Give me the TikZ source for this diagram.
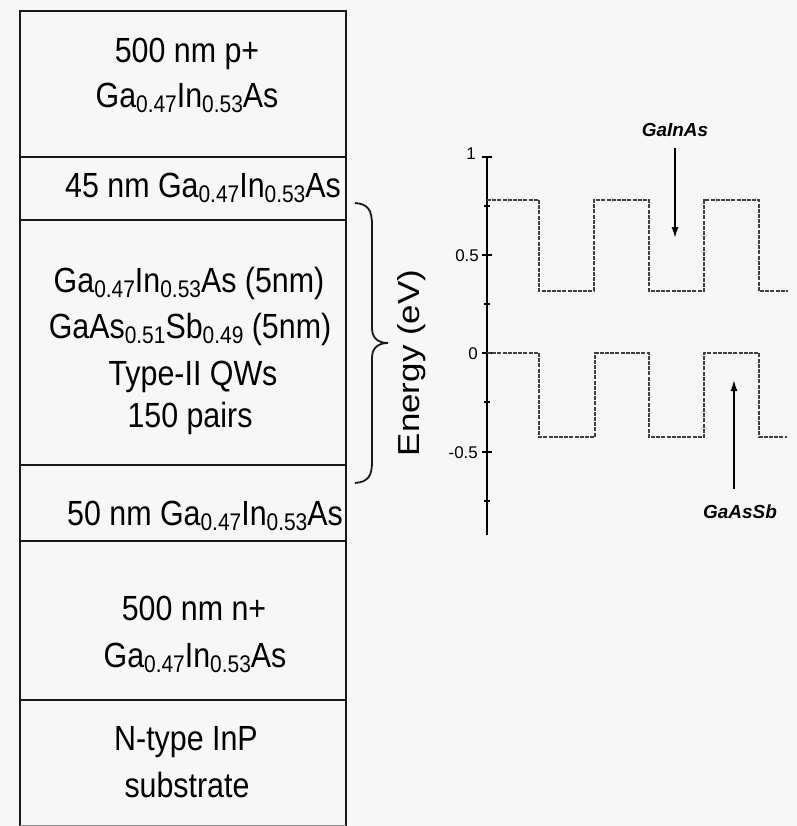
\documentclass[tikz,border=0pt]{standalone}
\usepackage{fontspec}
\setmainfont{Liberation Sans}
\usetikzlibrary{arrows.meta}
\newcommand\lsub[1]{\raisebox{-5bp}{\fontsize{21}{21}\selectfont #1}}
\newcommand\vs[1]{\scalebox{1}[1.15]{#1}}
\newcommand\GIA{Ga\lsub{0.47}In\lsub{0.53}As}
\begin{document}
\begin{tikzpicture}[x=1bp,y=-1bp,
 lay/.style={font=\fontsize{30.5}{36}\selectfont, inner sep=0pt, anchor=base},
 wall/.style={line width=2.5bp, black!90},
 band/.style={line width=1.6bp, black!75, dash pattern=on 4bp off 1.2bp},
 axisline/.style={line width=1.6bp, black},
 tlab/.style={font=\fontsize{17}{17}\selectfont, inner sep=0pt, anchor=east},
 mat/.style={font=\bfseries\itshape\fontsize{19}{19}\selectfont, inner sep=0pt},
 arr/.style={line width=1.6bp, -{Latex[length=11bp,width=7bp]}}]
\fill[white!97!black] (0,0) rectangle (797,826);
\useasboundingbox (0,0) rectangle (797,826);
% layer stack
\draw[wall] (20,826) -- (20,11) -- (346,11) -- (346,826);
\foreach \yy in {157,220,465,541,700} \draw[wall] (20,\yy) -- (346,\yy);
\draw[line width=1bp, black!45] (20,825) -- (346,825);
\node[lay] (l1a) at (187,62) {\vs{500 nm p+}};
\node[lay] (l1b) at (187,107) {\vs{\GIA}};
\node[lay] (l2) at (203,197) {\vs{45 nm \GIA}};
\node[lay] (l3a) at (189,292) {\vs{\GIA{} (5nm)}};
\node[lay] (l3b) at (190,338) {\vs{GaAs\lsub{0.51}Sb\lsub{0.49} (5nm)}};
\node[lay] (l3c) at (193,385) {\vs{Type-II QWs}};
\node[lay] (l3d) at (190,427) {\vs{150 pairs}};
\node[lay] (l4) at (205,525) {\vs{50 nm \GIA}};
\node[lay] (l5a) at (194,620) {\vs{500 nm n+}};
\node[lay] (l5b) at (195,667) {\vs{\GIA}};
\node[lay] (l6a) at (186,750) {\vs{N-type InP}};
\node[lay] (l6b) at (187,797) {\vs{substrate}};
% brace
\draw[line width=1.8bp, black!90] (355,203) .. controls (368,204) and (372,210) .. (372,225) -- (372,328)
  .. controls (372,338) and (378,343) .. (388,343)
  .. controls (378,343) and (372,348) .. (372,358) -- (372,462)
  .. controls (372,476) and (368,482) .. (355,483);
% energy label
\node[font=\fontsize{30.5}{36}\selectfont, inner sep=0pt, rotate=90] (elab) at (412,363) {\scalebox{1.15}[1]{Energy (eV)}};
% axis
\draw[axisline] (487,157) -- (487,535);
\foreach \yy in {157,255,353,452} \draw[axisline] (482,\yy) -- (492,\yy);
\foreach \yy in {206,304,402,501} \draw[line width=1.4bp] (484,\yy) -- (490,\yy);
\node[tlab] (t1) at (476,154) {1};
\node[tlab] (t05) at (479,256) {0.5};
\node[tlab] (t0) at (478,354) {0};
\node[tlab] (tm05) at (478,453) {-0.5};
% bands
\draw[band] (487,200) -| (539,291) -| (594,200) -| (649,291) -| (704,200) -| (759,291) -- (788,291);
\draw[band] (487,353) -| (539,437) -| (595,353) -| (649,437) -| (704,353) -| (759,437) -- (787,437);
% material labels
\node[mat] (gia) at (675,130) {GaInAs};
\coordinate (giaTip) at (675,238);
\draw[arr, shorten <=11bp] (gia.south) -- (giaTip);
\node[mat] (gas) at (740,512) {GaAsSb};
\coordinate (gasTip) at (734,380);
\draw[arr, shorten <=16bp] (gas.north -| gasTip) -- (gasTip);
\end{tikzpicture}
\end{document}
